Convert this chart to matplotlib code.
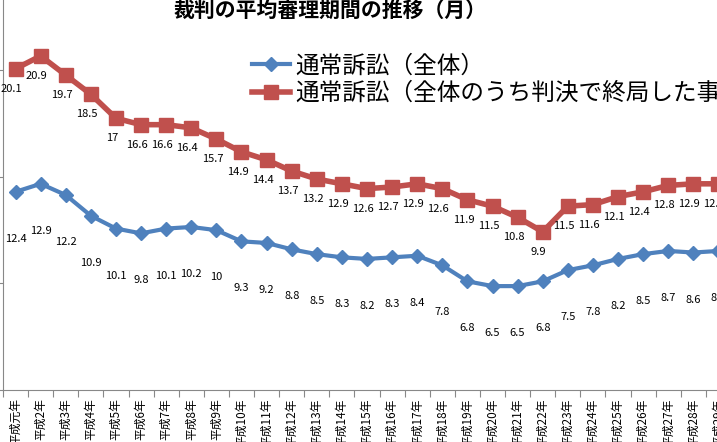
import matplotlib
matplotlib.use("Agg")
import matplotlib.pyplot as plt

plt.rcParams['font.family'] = ['Noto Sans CJK JP', 'DejaVu Sans']

years = ["平成元年"] + [f"平成{i}年" for i in range(2, 30)]
overall = [12.4,12.9,12.2,10.9,10.1,9.8,10.1,10.2,10,9.3,9.2,8.8,8.5,8.3,8.2,8.3,8.4,7.8,6.8,6.5,6.5,6.8,7.5,7.8,8.2,8.5,8.7,8.6,8.7]
judged = [20.1,20.9,19.7,18.5,17,16.6,16.6,16.4,15.7,14.9,14.4,13.7,13.2,12.9,12.6,12.7,12.9,12.6,11.9,11.5,10.8,9.9,11.5,11.6,12.1,12.4,12.8,12.9,12.9]

W, H = 717, 442
fig = plt.figure(figsize=(W/100, H/100), dpi=100)
ax = fig.add_axes([3/W, 1-390/H, 728/W, 390/H])
x = list(range(len(years)))
ax.plot(x, overall, color='#4F81BD', lw=3, marker='D', ms=7, label='通常訴訟（全体）')
ax.plot(x, judged, color='#C0504D', lw=4, marker='s', ms=10, label='通常訴訟（全体のうち判決で終局した事件）')
for xi, v in zip(x, overall):
    ax.annotate(f"{v:g}", (xi, v), xytext=(0, -47), textcoords='offset pixels', ha='center', va='center', fontsize=8)
for xi, v in zip(x, judged):
    ax.annotate(f"{v:g}", (xi, v), xytext=(-4, -20), textcoords='offset pixels', ha='center', va='center', fontsize=8)
ax.set_xlim(-0.5, len(years)-0.5)
ax.set_ylim(0, 24.4)
ax.set_yticks([0, 6.67, 13.33, 20])
ax.set_yticklabels([])
ax.set_xticks([i-0.5 for i in range(len(years)+1)], minor=False)
ax.set_xticklabels([])
ax.set_xticks(x, minor=True)
ax.set_xticklabels(years, minor=True, rotation=90, fontsize=8.5)
ax.tick_params(axis='x', which='minor', length=0, pad=6)
ax.tick_params(axis='x', which='major', length=5, color='#888888', direction='out')
ax.tick_params(axis='y', length=5, color='#888888')
for s in ['top', 'right']:
    ax.spines[s].set_visible(False)
for s in ['left', 'bottom']:
    ax.spines[s].set_color('#888888')
ax.legend(loc='upper left', bbox_to_anchor=(240/728, 1-45/390), frameon=False, fontsize=17,
          handlelength=1.6, handletextpad=0.2, borderaxespad=0, labelspacing=0.2)
fig.text(330/W, 1-10/H, "裁判の平均審理期間の推移（月）", ha='center', va='center', fontsize=15, fontweight='bold')
fig.savefig("out.png", dpi=100)
